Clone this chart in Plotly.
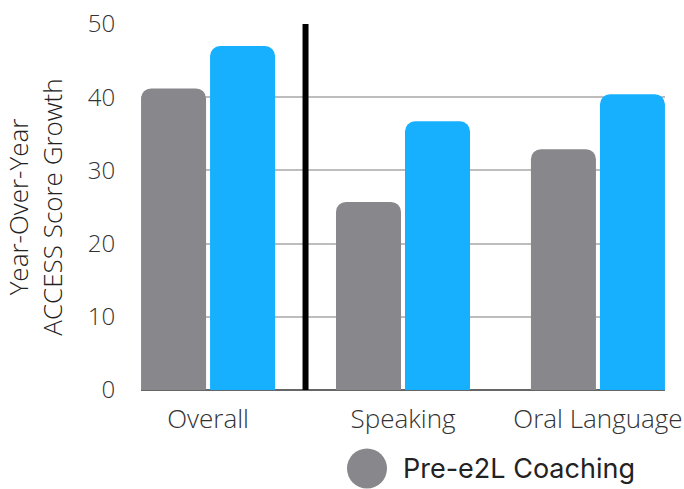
import plotly.graph_objects as go

categories = ["Overall", "Speaking", "Oral Language"]
pre_values = [41.2, 25.7, 32.9]
post_values = [47.0, 36.7, 40.4]
pre_name = "Pre-e2L Coaching"
post_name = "Post-e2L Coaching"
y_ticks = [0, 10, 20, 30, 40, 50]
y_title = "Year-Over-Year<br>ACCESS Score Growth"

GRAY = "#88878c"
BLUE = "#17b0ff"
x_idx = list(range(len(categories)))

fig = go.Figure()
fig.add_trace(go.Bar(x=x_idx, y=pre_values, name=pre_name,
                     marker=dict(color=GRAY, cornerradius=10, line=dict(width=0)),
                     showlegend=False))
fig.add_trace(go.Bar(x=x_idx, y=post_values, name=post_name,
                     marker=dict(color=BLUE, cornerradius=10, line=dict(width=0)),
                     showlegend=False))

y_tick_font = dict(family="Open Sans", size=24, color="#333333", weight=300)
x_tick_font = dict(family="Open Sans", size=26, color="#333333", weight=300)

fig.update_layout(
    width=684, height=489,
    margin=dict(l=141, r=19, t=24, b=99),
    paper_bgcolor="white", plot_bgcolor="white",
    barmode="group", bargap=0.292, bargroupgap=0.058,
    xaxis=dict(range=[-0.344, 2.344], tickmode="array", tickvals=x_idx,
               ticktext=categories, tickfont=x_tick_font, showgrid=False,
               zeroline=False, showline=False, ticks="outside", ticklen=6,
               tickcolor="rgba(0,0,0,0)", fixedrange=True, automargin=False),
    yaxis=dict(range=[0, 50], tickmode="array", tickvals=y_ticks,
               tickfont=y_tick_font, showgrid=True, gridcolor="#bdbdbd",
               gridwidth=2, zeroline=True, zerolinecolor="#666666",
               zerolinewidth=2, showline=False, ticks="outside", ticklen=20,
               tickcolor="rgba(0,0,0,0)", automargin=False, fixedrange=True,
               title=dict(text=y_title, font=dict(family="Open Sans", size=26,
                                                  color="#222222", weight=300),
                          standoff=24)),
    showlegend=False,
)

# divider between Overall and the sub-domains
fig.add_shape(type="line", xref="x", yref="y", x0=0.5, x1=0.5, y0=-0.5, y1=50,
              line=dict(color="black", width=6), layer="above")

# legend (only the first series is shown in the reference)
fig.add_shape(type="circle", xref="paper", yref="paper",
              x0=(347 - 141) / 524, x1=(387 - 141) / 524,
              y0=(389.5 - 488) / 366, y1=(389.5 - 448) / 366,
              fillcolor=GRAY, line=dict(width=0))
fig.add_annotation(xref="paper", yref="paper", x=(401 - 141) / 524,
                   y=(389.5 - 468) / 366, xanchor="left", yanchor="middle",
                   text=pre_name, showarrow=False,
                   font=dict(family="Inter", size=27, color="#222222"))

fig.write_html("out.html", config={"displayModeBar": False},
               post_script="document.body.style.margin='0';document.body.style.overflow='hidden';")
